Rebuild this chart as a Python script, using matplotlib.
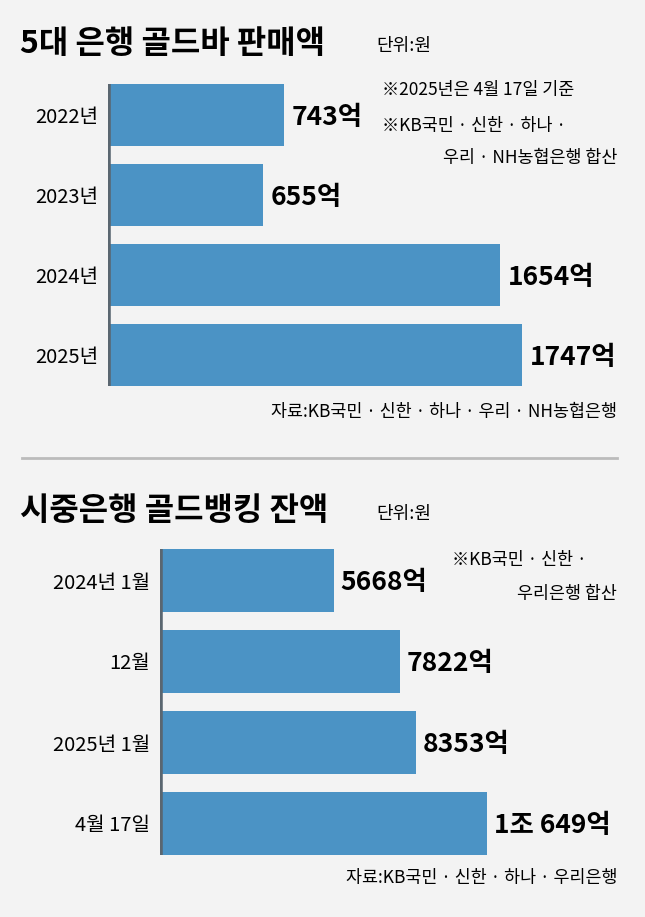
import matplotlib
matplotlib.use("Agg")
import matplotlib.pyplot as plt

plt.rcParams['font.family'] = ['Noto Sans CJK KR', 'DejaVu Sans']

years = ['2022년', '2023년', '2024년', '2025년']
sales = [743, 655, 1654, 1747]
sales_labels = ['743억', '655억', '1654억', '1747억']

periods = ['2024년 1월', '12월', '2025년 1월', '4월 17일']
balance = [5668, 7822, 8353, 10649]
balance_labels = ['5668억', '7822억', '8353억', '1조 649억']

W, H = 645, 917
BG = '#f3f3f3'
BAR = '#4b93c5'
fig = plt.figure(figsize=(W/100, H/100), dpi=100, facecolor=BG)

def panel(left, top, bottom, xmax, cats, vals, labels):
    ax = fig.add_axes([left/W, 1-bottom/H, 1-left/W, (bottom-top)/H])
    ax.set_facecolor('none')
    y = range(len(cats))
    ax.barh(y, vals, height=0.77, color=BAR)
    ax.set_xlim(0, xmax)
    ax.set_ylim(len(cats)-0.5, -0.5)
    for s in ax.spines.values():
        s.set_visible(False)
    ax.plot([0, 0], [-0.385, len(cats)-1+0.385], color='#5a6670', lw=4, solid_capstyle='butt')
    ax.set_xticks([])
    ax.set_yticks(list(y))
    ax.set_yticklabels(cats, fontsize=14.5)
    ax.tick_params(axis='y', length=0, pad=7)
    for i, (v, l) in enumerate(zip(vals, labels)):
        ax.text(v + xmax*0.014, i + 0.03, l, fontsize=19, fontweight='bold', va='center', ha='left')
    return ax

panel(108, 75, 395, 537/0.237, years, sales, sales_labels)
panel(160, 540, 864, 485/0.0307, periods, balance, balance_labels)

def t(x, y, s, **kw):
    fig.text(x/W, 1-y/H, s, **kw)

t(20, 44, '5대 은행 골드바 판매액', fontsize=23, fontweight='bold', va='center')
t(376, 46, '단위:원', fontsize=13, va='center')
t(382, 90, '※2025년은 4월 17일 기준', fontsize=12.5, va='center')
t(382, 126, '※KB국민 · 신한 · 하나 ·', fontsize=12.5, va='center')
t(617, 158, '우리 · NH농협은행 합산', fontsize=12.5, va='center', ha='right')
t(617, 412, '자료:KB국민 · 신한 · 하나 · 우리 · NH농협은행', fontsize=12.5, va='center', ha='right')
fig.add_artist(plt.Line2D([22/W, 617/W], [1-458/H, 1-458/H], color='#bbbbbb', lw=2))
t(20, 511, '시중은행 골드뱅킹 잔액', fontsize=23, fontweight='bold', va='center')
t(376, 514, '단위:원', fontsize=13, va='center')
t(452, 560, '※KB국민 · 신한 ·', fontsize=12.5, va='center')
t(617, 594, '우리은행 합산', fontsize=12.5, va='center', ha='right')
t(617, 878, '자료:KB국민 · 신한 · 하나 · 우리은행', fontsize=12.5, va='center', ha='right')

fig.savefig('out.png', dpi=100, facecolor=BG)
